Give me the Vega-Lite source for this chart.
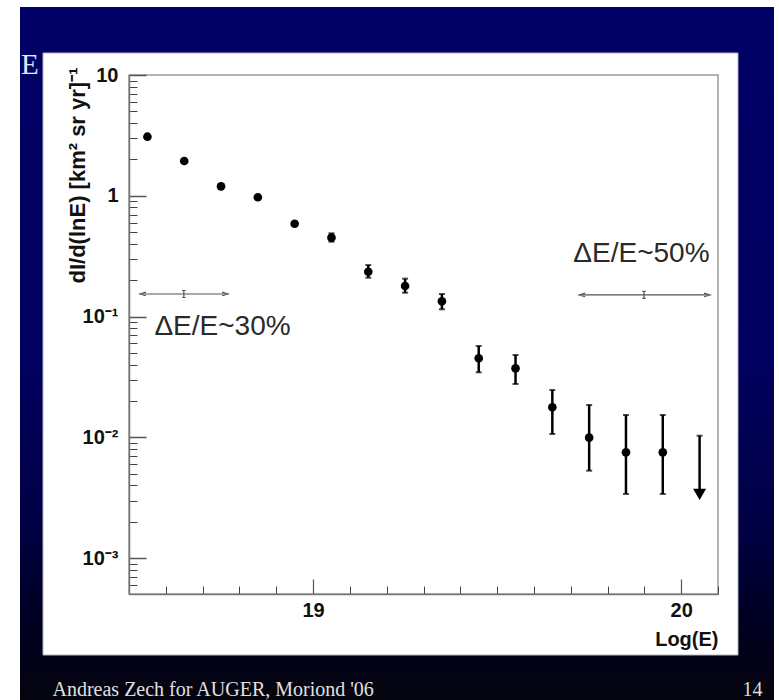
{
  "$schema": "https://vega.github.io/schema/vega-lite/v6.json",
  "width": 589,
  "height": 519,
  "autosize": {"type": "none"},
  "padding": {"left": 129, "top": 75, "right": 61, "bottom": 106},
  "background": "#ffffff",
  "config": {"view": {"stroke": null}, "font": "Liberation Sans"},
  "title": {"text": "E", "orient": "top", "anchor": "start", "frame": "group", "font": "Liberation Serif", "fontSize": 29, "fontWeight": "normal", "color": "#e4e4ff", "baseline": "alphabetic", "dx": -108, "offset": 0, "dy": 96},
  "datasets": {
    "slide": [
      {"part": "frame", "x0": 18.2039, "x1": 20.2521, "y0": 36.55, "y1": 0.00006},
      {"part": "panel", "x0": 18.2664, "x1": 20.1543, "y0": 15.21, "y1": 0.00015785},
      {"part": "plot", "x0": 18.5, "x1": 20.1, "y0": 10, "y1": 0.000505}
    ],
    "flux": [
      {"logE": 18.55, "flux": 3.085, "lo": 3.01, "hi": 3.16},
      {"logE": 18.65, "flux": 1.941, "lo": 1.895, "hi": 1.99},
      {"logE": 18.75, "flux": 1.198, "lo": 1.165, "hi": 1.232},
      {"logE": 18.85, "flux": 0.972, "lo": 0.945, "hi": 1.0},
      {"logE": 18.95, "flux": 0.587, "lo": 0.565, "hi": 0.61},
      {"logE": 19.05, "flux": 0.45, "lo": 0.417, "hi": 0.489},
      {"logE": 19.15, "flux": 0.235, "lo": 0.21, "hi": 0.267},
      {"logE": 19.25, "flux": 0.179, "lo": 0.1576, "hi": 0.206},
      {"logE": 19.35, "flux": 0.1338, "lo": 0.1149, "hi": 0.1538},
      {"logE": 19.45, "flux": 0.04515, "lo": 0.03457, "hi": 0.05706},
      {"logE": 19.55, "flux": 0.0373, "lo": 0.02765, "hi": 0.04807},
      {"logE": 19.65, "flux": 0.01774, "lo": 0.01066, "hi": 0.02467},
      {"logE": 19.75, "flux": 0.00994, "lo": 0.0053, "hi": 0.01854},
      {"logE": 19.85, "flux": 0.00752, "lo": 0.0034, "hi": 0.01532},
      {"logE": 19.95, "flux": 0.00752, "lo": 0.0034, "hi": 0.01532}
    ],
    "limit": [{"logE": 20.05, "ul": 0.01032, "head": 0.00337}],
    "res": [
      {"label": "ΔE/E~30%", "x1": 18.538, "x2": 18.761, "xc": 18.649, "y": 0.1538, "tx": 18.754, "ty": 0.082},
      {"label": "ΔE/E~50%", "x1": 19.731, "x2": 20.07, "xc": 19.899, "y": 0.151, "tx": 19.892, "ty": 0.33}
    ]
  },
  "layer": [
    {
      "data": {"name": "slide"},
      "transform": [{"filter": "datum.part == 'frame'"}],
      "mark": {"type": "rect", "strokeWidth": 0, "fill": {"gradient": "linear", "x1": 0, "y1": 0, "x2": 0, "y2": 1, "stops": [{"offset": 0, "color": "#000066"}, {"offset": 0.5, "color": "#000060"}, {"offset": 0.75, "color": "#000044"}, {"offset": 0.88, "color": "#000022"}, {"offset": 1, "color": "#05050d"}]}},
      "encoding": {
        "x": {"field": "x0", "type": "quantitative", "scale": {"domain": [18.5, 20.1], "nice": false, "zero": false}, "axis": null},
        "x2": {"field": "x1"},
        "y": {"field": "y0", "type": "quantitative", "scale": {"type": "log", "domain": [0.000505, 10], "nice": false}, "axis": null},
        "y2": {"field": "y1"}
      }
    },
    {
      "data": {"name": "slide"},
      "transform": [{"filter": "datum.part == 'panel'"}],
      "mark": {"type": "rect", "fill": "#ffffff", "stroke": "#b4b4c4", "strokeWidth": 1},
      "encoding": {
        "x": {"field": "x0", "type": "quantitative", "scale": {"domain": [18.5, 20.1], "nice": false, "zero": false}, "axis": null},
        "x2": {"field": "x1"},
        "y": {"field": "y0", "type": "quantitative", "scale": {"type": "log", "domain": [0.000505, 10], "nice": false}, "axis": null},
        "y2": {"field": "y1"}
      }
    },
    {
      "data": {"name": "slide"},
      "transform": [{"filter": "datum.part == 'plot'"}],
      "mark": {"type": "rect", "fill": "#ffffff", "stroke": "#9a9a9a", "strokeWidth": 1.5},
      "encoding": {
        "x": {"field": "x0", "type": "quantitative", "scale": {"domain": [18.5, 20.1], "nice": false, "zero": false}, "axis": null},
        "x2": {"field": "x1"},
        "y": {"field": "y0", "type": "quantitative", "scale": {"type": "log", "domain": [0.000505, 10], "nice": false}, "axis": null},
        "y2": {"field": "y1"}
      }
    },
    {
      "data": {"name": "res"},
      "mark": {"type": "rule", "color": "#555555", "strokeWidth": 1.2},
      "encoding": {
        "x": {"field": "x1", "type": "quantitative", "scale": {"domain": [18.5, 20.1], "nice": false, "zero": false}, "axis": null},
        "x2": {"field": "x2"},
        "y": {"field": "y", "type": "quantitative", "scale": {"type": "log", "domain": [0.000505, 10], "nice": false}, "axis": null}
      }
    },
    {
      "data": {"name": "res"},
      "mark": {"type": "point", "shape": "M1,-0.6L-1,0L1,0.6", "filled": false, "color": "#555555", "strokeWidth": 1.2, "size": 36, "opacity": 1},
      "encoding": {
        "x": {"field": "x1", "type": "quantitative", "scale": {"domain": [18.5, 20.1], "nice": false, "zero": false}, "axis": null},
        "y": {"field": "y", "type": "quantitative", "scale": {"type": "log", "domain": [0.000505, 10], "nice": false}, "axis": null}
      }
    },
    {
      "data": {"name": "res"},
      "mark": {"type": "point", "shape": "M-1,-0.6L1,0L-1,0.6", "filled": false, "color": "#555555", "strokeWidth": 1.2, "size": 36, "opacity": 1},
      "encoding": {
        "x": {"field": "x2", "type": "quantitative", "scale": {"domain": [18.5, 20.1], "nice": false, "zero": false}, "axis": null},
        "y": {"field": "y", "type": "quantitative", "scale": {"type": "log", "domain": [0.000505, 10], "nice": false}, "axis": null}
      }
    },
    {
      "data": {"name": "res"},
      "mark": {"type": "point", "shape": "M0,-1L0,1M-0.5,-1L0.5,-1M-0.5,1L0.5,1", "filled": false, "color": "#555555", "strokeWidth": 1.2, "size": 49, "opacity": 1},
      "encoding": {
        "x": {"field": "xc", "type": "quantitative", "scale": {"domain": [18.5, 20.1], "nice": false, "zero": false}, "axis": null},
        "y": {"field": "y", "type": "quantitative", "scale": {"type": "log", "domain": [0.000505, 10], "nice": false}, "axis": null}
      }
    },
    {
      "data": {"name": "res"},
      "mark": {"type": "text", "font": "Liberation Sans", "fontSize": 28, "color": "#2a2a2a", "align": "center", "baseline": "middle"},
      "encoding": {
        "x": {"field": "tx", "type": "quantitative", "scale": {"domain": [18.5, 20.1], "nice": false, "zero": false}, "axis": null},
        "y": {"field": "ty", "type": "quantitative", "scale": {"type": "log", "domain": [0.000505, 10], "nice": false}, "axis": null},
        "text": {"field": "label"}
      }
    },
    {
      "data": {"name": "flux"},
      "mark": {"type": "rule", "color": "#000000", "strokeWidth": 2.5},
      "encoding": {
        "x": {"field": "logE", "type": "quantitative", "scale": {"domain": [18.5, 20.1], "nice": false, "zero": false},
          "axis": {"orient": "bottom", "values": [18.6, 18.7, 18.8, 18.9, 19.1, 19.2, 19.3, 19.4, 19.5, 19.6, 19.7, 19.8, 19.9, 20.1], "tickSize": -8, "tickColor": "#444444", "tickWidth": 1, "labels": false, "domain": false, "grid": false, "zindex": 1,
            "title": "14", "titleX": 633, "titleY": 101, "titleAngle": 0, "titleAlign": "right", "titleBaseline": "alphabetic", "titleFont": "Liberation Serif", "titleFontSize": 20, "titleFontWeight": "normal", "titleColor": "#dcdcdc"}},
        "y": {"field": "lo", "type": "quantitative", "scale": {"type": "log", "domain": [0.000505, 10], "nice": false},
          "axis": {"orient": "left", "values": [0.0006, 0.0007, 0.0008, 0.0009, 0.002, 0.003, 0.004, 0.005, 0.006, 0.007, 0.008, 0.009, 0.02, 0.03, 0.04, 0.05, 0.06, 0.07, 0.08, 0.09, 0.2, 0.3, 0.4, 0.5, 0.6, 0.7, 0.8, 0.9, 2, 3, 4, 5, 6, 7, 8, 9], "tickSize": -8, "tickColor": "#444444", "tickWidth": 1, "labels": false, "domain": false, "grid": false, "zindex": 1,
            "title": "Andreas Zech for AUGER, Moriond '06", "titleX": -77, "titleY": 620, "titleAngle": 0, "titleAlign": "left", "titleBaseline": "alphabetic", "titleFont": "Liberation Serif", "titleFontSize": 20, "titleFontWeight": "normal", "titleColor": "#e0e0e0"}},
        "y2": {"field": "hi"}
      }
    },
    {
      "data": {"name": "flux"},
      "transform": [{"fold": ["lo", "hi"], "as": ["end", "yv"]}],
      "mark": {"type": "tick", "orient": "horizontal", "color": "#000000", "size": 6, "thickness": 2},
      "encoding": {
        "x": {"field": "logE", "type": "quantitative", "scale": {"domain": [18.5, 20.1], "nice": false, "zero": false}, "axis": null},
        "y": {"field": "yv", "type": "quantitative", "scale": {"type": "log", "domain": [0.000505, 10], "nice": false}, "axis": null}
      }
    },
    {
      "data": {"name": "flux"},
      "mark": {"type": "circle", "color": "#000000", "size": 75, "opacity": 1},
      "encoding": {
        "x": {"field": "logE", "type": "quantitative", "scale": {"domain": [18.5, 20.1], "nice": false, "zero": false},
          "axis": {"orient": "bottom", "values": [19, 20], "tickSize": -15, "tickColor": "#555555", "tickWidth": 1.2, "labelPadding": 21, "labelFlush": false, "labelOverlap": false, "labelBound": false, "labelFont": "Liberation Sans", "labelFontSize": 20, "labelFontWeight": "bold", "labelColor": "#111111", "domain": true, "domainColor": "#777777", "domainWidth": 1.5, "grid": false, "zindex": 1,
            "title": "Log(E)", "titleX": 589, "titleY": 51, "titleAngle": 0, "titleAlign": "right", "titleBaseline": "alphabetic", "titleFont": "Liberation Sans", "titleFontSize": 20, "titleFontWeight": "bold", "titleColor": "#111111"}},
        "y": {"field": "flux", "type": "quantitative", "scale": {"type": "log", "domain": [0.000505, 10], "nice": false},
          "axis": {"orient": "left", "values": [0.001, 0.01, 0.1, 1, 10], "tickSize": -17, "tickColor": "#555555", "tickWidth": 1.5, "labelExpr": "datum.value >= 10 ? '10' : datum.value >= 1 ? '1' : datum.value >= 0.1 ? '10⁻¹' : datum.value >= 0.01 ? '10⁻²' : '10⁻³'", "labelPadding": 28, "labelFlush": false, "labelOverlap": false, "labelBound": false, "labelFont": "Liberation Sans", "labelFontSize": 20, "labelFontWeight": "bold", "labelColor": "#111111", "domain": true, "domainColor": "#777777", "domainWidth": 1.5, "grid": false, "zindex": 1,
            "title": "dI/d(lnE) [km² sr yr]⁻¹", "titleX": -52, "titleY": -8, "titleAngle": 270, "titleAlign": "right", "titleBaseline": "middle", "titleFont": "Liberation Sans", "titleFontSize": 22, "titleFontWeight": "bold", "titleColor": "#111111"}}
      }
    },
    {
      "data": {"name": "limit"},
      "mark": {"type": "rule", "color": "#000000", "strokeWidth": 2.5},
      "encoding": {
        "x": {"field": "logE", "type": "quantitative", "scale": {"domain": [18.5, 20.1], "nice": false, "zero": false}, "axis": null},
        "y": {"field": "ul", "type": "quantitative", "scale": {"type": "log", "domain": [0.000505, 10], "nice": false}, "axis": null},
        "y2": {"field": "head"}
      }
    },
    {
      "data": {"name": "limit"},
      "mark": {"type": "tick", "orient": "horizontal", "color": "#000000", "size": 6, "thickness": 2},
      "encoding": {
        "x": {"field": "logE", "type": "quantitative", "scale": {"domain": [18.5, 20.1], "nice": false, "zero": false}, "axis": null},
        "y": {"field": "ul", "type": "quantitative", "scale": {"type": "log", "domain": [0.000505, 10], "nice": false}, "axis": null}
      }
    },
    {
      "data": {"name": "limit"},
      "mark": {"type": "point", "shape": "triangle-down", "filled": true, "color": "#000000", "size": 170, "opacity": 1},
      "encoding": {
        "x": {"field": "logE", "type": "quantitative", "scale": {"domain": [18.5, 20.1], "nice": false, "zero": false}, "axis": null},
        "y": {"field": "head", "type": "quantitative", "scale": {"type": "log", "domain": [0.000505, 10], "nice": false}, "axis": null}
      }
    }
  ],
  "resolve": {"axis": {"x": "independent", "y": "independent"}}
}
